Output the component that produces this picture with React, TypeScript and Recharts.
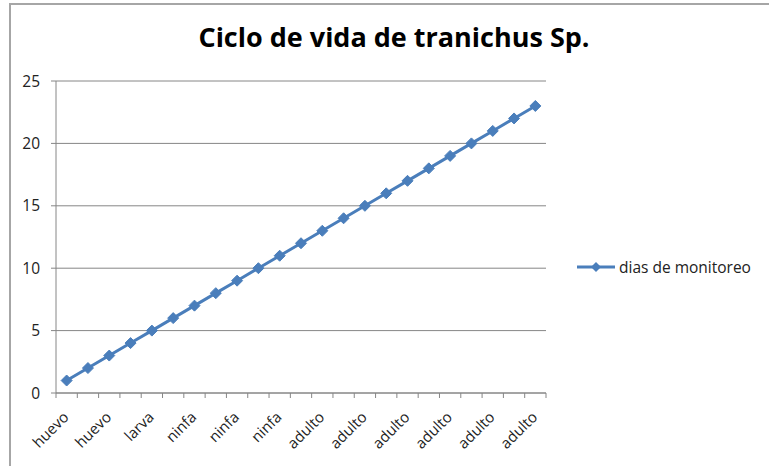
import React from 'react';
import { LineChart, Line, XAxis, YAxis, CartesianGrid, Legend } from 'recharts';

// stage of each monitoring day (only every second label is visible on the axis)
const etapas = [
  'huevo', 'huevo', 'huevo', 'huevo', 'larva', 'larva', 'ninfa', 'ninfa',
  'ninfa', 'ninfa', 'ninfa', 'ninfa', 'adulto', 'adulto', 'adulto', 'adulto',
  'adulto', 'adulto', 'adulto', 'adulto', 'adulto', 'adulto', 'adulto',
];
const diasMonitoreo = [1, 2, 3, 4, 5, 6, 7, 8, 9, 10, 11, 12, 13, 14, 15, 16, 17, 18, 19, 20, 21, 22, 23];
const yTicks = [0, 5, 10, 15, 20, 25];

const chartData = etapas.map((etapa, i) => ({ etapa, dias: diasMonitoreo[i] }));

const W = 769;
const H = 466;
const MARGIN = { top: 81, right: 223, bottom: 13, left: 10 };
const Y_AXIS_W = 46;
const PLOT_W = W - MARGIN.left - MARGIN.right - Y_AXIS_W;
const BAND = PLOT_W / etapas.length;

const BLUE = '#4a7ebb';
const GRID = '#868686';
const FONT = '"Open Sans", "Noto Sans", sans-serif';

const Diamond = (props: any) => {
  const { cx, cy } = props;
  if (cx == null || cy == null) return null;
  const r = 5.5;
  return (
    <polygon
      points={`${cx},${cy - r} ${cx + r},${cy} ${cx},${cy + r} ${cx - r},${cy}`}
      fill={BLUE}
      stroke={BLUE}
      strokeWidth={1}
    />
  );
};

// Excel style: tick marks between categories, labels on every other category
const CategoryTick = (props: any) => {
  const { x, y, payload, index } = props;
  const left = x - BAND / 2;
  return (
    <g>
      <line x1={left} y1={y} x2={left} y2={y + 5} stroke={GRID} />
      {index === etapas.length - 1 && (
        <line x1={x + BAND / 2} y1={y} x2={x + BAND / 2} y2={y + 5} stroke={GRID} />
      )}
      {index % 2 === 0 && (
        <g transform={`translate(${x + 3}, ${y + 25}) rotate(-45)`}>
          <text x={0} y={0} textAnchor="end" fontSize={15} fontFamily={FONT} fill="#222">
            {payload.value}
          </text>
        </g>
      )}
    </g>
  );
};

const LegendBox = () => (
  <div style={{ display: 'flex', alignItems: 'center', fontFamily: FONT, fontSize: 15.5, color: '#222' }}>
    <svg width={40} height={14} style={{ flexShrink: 0 }}>
      <line x1={1} y1={7} x2={39} y2={7} stroke={BLUE} strokeWidth={3} />
      <polygon points="20,2 25,7 20,12 15,7" fill={BLUE} />
    </svg>
    <span style={{ marginLeft: 3, whiteSpace: 'nowrap' }}>dias de monitoreo</span>
  </div>
);

export default function App() {
  return (
    <div style={{ position: 'absolute', left: 0, top: 0, width: W, height: H, background: '#fff', overflow: 'hidden' }}>
      <div
        style={{
          position: 'absolute', left: 9, top: 3, width: W, height: H,
          borderTop: '2px solid #a6a6a6', borderLeft: '2px solid #a6a6a6',
        }}
      />
      <div
        style={{
          position: 'absolute', left: 0, top: 18, width: 788, textAlign: 'center',
          fontFamily: FONT, fontWeight: 700, fontSize: 27, color: '#000',
        }}
      >
        Ciclo de vida de tranichus Sp.
      </div>
      <div style={{ position: 'absolute', left: 0, top: 0 }}>
        <LineChart width={W} height={H} data={chartData} margin={MARGIN}>
          <CartesianGrid vertical={false} stroke={GRID} />
          <XAxis
            dataKey="etapa"
            interval={0}
            height={60}
            padding={{ left: BAND / 2, right: BAND / 2 }}
            tickLine={false}
            tickSize={0}
            tickMargin={0}
            axisLine={{ stroke: GRID }}
            tick={<CategoryTick />}
          />
          <YAxis
            width={Y_AXIS_W}
            domain={[0, 25]}
            ticks={yTicks}
            tickSize={5}
            tickMargin={11}
            axisLine={{ stroke: GRID }}
            tickLine={{ stroke: GRID }}
            tick={{ fill: '#222', fontSize: 15.5, fontFamily: FONT }}
          />
          <Legend
            layout="horizontal"
            align="center"
            verticalAlign="middle"
            wrapperStyle={{ left: 576, top: 256, width: 193 }}
            content={<LegendBox />}
          />
          <Line
            type="linear"
            dataKey="dias"
            name="dias de monitoreo"
            stroke={BLUE}
            strokeWidth={3}
            dot={<Diamond />}
            activeDot={false}
            isAnimationActive={false}
          />
        </LineChart>
      </div>
    </div>
  );
}
